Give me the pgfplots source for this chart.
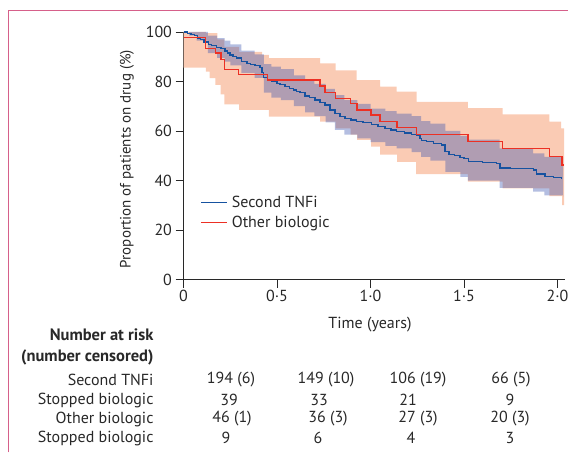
\documentclass[border=0pt]{standalone}
\usepackage{fontspec}
\setmainfont{PT Sans}
\usepackage{pgfplots}
\pgfplotsset{compat=1.18}
\usepgfplotslibrary{fillbetween}
\definecolor{frame}{RGB}{214,96,138}
\definecolor{oband}{RGB}{250,203,180}
\definecolor{bband}{RGB}{58,84,176}
\definecolor{bline}{RGB}{22,82,160}
\definecolor{rline}{RGB}{236,48,36}
\definecolor{txt}{RGB}{40,40,40}
\newcommand{\fs}{\fontsize{16}{19}\selectfont}
\begin{document}
\begin{tikzpicture}
\draw[frame, line width=1.5pt] (8.5pt,0.75pt) -- (8.5pt,442.5pt) -- (568.25pt,442.5pt);
\begin{axis}[
  at={(183.5pt,173.5pt)}, anchor=south west,
  scale only axis, width=381.5pt, height=247.5pt,
  xmin=0, xmax=2.04, ymin=0, ymax=100,
  axis lines=left,
  axis line style={-, line width=0.9pt, txt},
  tick style={line width=0.9pt, txt},
  tick align=outside, major tick length=8pt,
  xtick={0,0.5,1,1.5,2}, xticklabels={0,0·5,1·0,1·5,2·0},
  ytick={0,20,40,60,80,100}, yticklabels={0,20,40,60,80,100},
  tick label style={font=\fs, text=txt},
  xticklabel style={yshift=1pt},
  /pgf/number format/assume math mode=true,
  legend style={draw=none, fill=none, at={(0.045,0.345)}, anchor=north west, font=\fs, row sep=3pt, column sep=2pt, inner sep=0pt, text=txt},
  legend cell align=left,
  legend image code/.code={\draw[#1, line width=1pt] (0pt,0pt) -- (26pt,0pt);},
]
% Other biologic CI (orange)
\addplot[name path=ou, draw=none, const plot, forget plot] coordinates {
(0,100) (0.12,99.5) (0.181,97) (0.218,94) (0.298,92) (0.42,90.8) (0.457,89.4) (0.730,87.3) (0.814,84.5) (0.926,80.6) (1.051,77.9) (1.140,75.9) (1.247,71.8) (1.520,69.2) (1.707,66.7) (1.956,63.8) (2.019,61.1) (2.035,61.1)};
\addplot[name path=ol, draw=none, const plot, forget plot] coordinates {
(0,85.6) (0.119,84) (0.14,81.4) (0.17,78.6) (0.199,74.8) (0.218,70.8) (0.298,68.5) (0.457,65.8) (0.730,63.8) (0.814,61.1) (0.893,58.5) (0.928,56.4) (1.003,53.7) (1.051,50.5) (1.142,47.5) (1.244,42.6) (1.521,39.5) (1.706,36.8) (1.956,33.7) (2.024,30.1) (2.035,30.1)};
\addplot[oband, draw=none, forget plot] fill between[of=ou and ol];
% Second TNFi CI (blue)
\addplot[name path=bu, draw=none, const plot, forget plot] coordinates {
(0,100) (0.13,98.5) (0.18,97.5) (0.22,96.5) (0.25,95) (0.31,92.5) (0.38,91) (0.43,87) (0.47,86) (0.52,85) (0.59,82.5) (0.65,80.5) (0.70,79) (0.76,77) (0.81,74.5) (0.86,72.5) (0.93,71) (1.00,69) (1.08,68) (1.14,67) (1.22,66) (1.27,64) (1.32,63) (1.40,60) (1.48,58) (1.52,56.5) (1.69,53) (1.87,51) (1.93,49.5) (2.03,48.5)};
\addplot[name path=bl, draw=none, const plot, forget plot] coordinates {
(0,100) (0.03,98.5) (0.07,96.5) (0.13,91.5) (0.18,89.5) (0.22,88) (0.25,86.5) (0.31,83.5) (0.38,81.5) (0.43,75.5) (0.47,73.5) (0.52,72.5) (0.59,70) (0.65,67.5) (0.70,66) (0.76,63.5) (0.81,60.5) (0.86,58.5) (0.93,57) (1.00,55.5) (1.08,54) (1.14,53) (1.22,51.5) (1.27,49.5) (1.32,48) (1.40,43.5) (1.48,41.5) (1.52,40) (1.69,37) (1.87,35.5) (1.93,34) (2.03,33.5)};
\addplot[bband, fill opacity=0.38, draw=none, forget plot] fill between[of=bu and bl];
% Second TNFi KM
\addplot[bline, line width=1.3pt, const plot] coordinates {
(0,100) (0.02,99.5) (0.04,99.0) (0.06,98.5) (0.075,97.5) (0.09,97.0) (0.11,96.0) (0.133,95.0) (0.15,94.5) (0.178,93.8) (0.2,93.2) (0.222,92.3) (0.235,91.5) (0.249,90.7) (0.265,90.2) (0.284,89.5) (0.311,88.0) (0.34,87.3) (0.36,86.8) (0.382,86.4) (0.409,85.6) (0.42,83.5) (0.427,81.5) (0.45,80.5) (0.472,79.9) (0.5,79.3) (0.516,78.8) (0.543,77.9) (0.565,77.2) (0.587,76.6) (0.605,76.0) (0.623,75.5) (0.65,74.2) (0.675,73.5) (0.703,72.5) (0.73,71.5) (0.757,70.5) (0.783,68.5) (0.81,67.1) (0.837,65.8) (0.864,65.1) (0.895,64.5) (0.926,63.8) (0.96,63.3) (1.006,62.6) (1.04,61.9) (1.078,61.0) (1.11,60.4) (1.14,59.7) (1.18,59.2) (1.22,58.6) (1.247,58.3) (1.265,57.0) (1.274,56.3) (1.3,55.8) (1.335,55.0) (1.381,54.3) (1.398,51.6) (1.42,50.5) (1.45,50.0) (1.479,49.4) (1.5,48.8) (1.523,47.7) (1.6,47.3) (1.675,46.9) (1.693,45.0) (1.75,44.8) (1.871,44.2) (1.889,42.6) (1.933,41.6) (1.98,41.2) (2.022,40.9)};
\addlegendentry{Second TNFi}
% Other biologic KM
\addplot[rline, line width=1.2pt, const plot] coordinates {
(0,97.8) (0.119,93.3) (0.17,91.5) (0.2,88.8) (0.218,84.8) (0.293,82.7) (0.45,80.6) (0.730,78.2) (0.757,75.6) (0.814,73.2) (0.893,71.2) (0.928,68.5) (1.003,66.5) (1.051,63.8) (1.142,61.3) (1.244,58.7) (1.521,55.7) (1.706,53.0) (1.956,49.6) (2.024,46.3) (2.035,46.3)};
\addlegendentry{Other biologic}
\end{axis}
% labels
\node[rotate=90, font=\fontsize{15}{18}\selectfont, text=txt] at (127pt,294pt) {Proportion of patients on drug (\%)};
\node[font=\fs, text=txt] at (370pt,128pt) {Time (years)};
% risk table
\begin{scope}[every node/.style={font=\fs, text=txt}]
\node[anchor=east, font=\fontsize{16.5}{19}\selectfont\bfseries] at (157pt,118pt) {Number at risk};
\node[anchor=east, font=\fontsize{16.5}{19}\selectfont\bfseries] at (157pt,96pt) {(number censored)};
\node[anchor=east] at (157pt,73pt) {Second TNFi};
\node[anchor=east] at (157pt,53pt) {Stopped biologic};
\node[anchor=east] at (157pt,34pt) {Other biologic};
\node[anchor=east] at (157pt,15pt) {Stopped biologic};
\node at (231pt,73pt) {194 (6)}; \node at (326pt,73pt) {149 (10)}; \node at (418pt,73pt) {106 (19)}; \node at (511pt,73pt) {66 (5)};
\node at (229pt,53pt) {39}; \node at (319pt,53pt) {33}; \node at (408pt,53pt) {21}; \node at (510pt,53pt) {9};
\node at (232pt,34pt) {46 (1)}; \node at (328pt,34pt) {36 (3)}; \node at (418pt,34pt) {27 (3)}; \node at (510pt,34pt) {20 (3)};
\node at (226pt,15pt) {9}; \node at (318pt,15pt) {6}; \node at (411pt,15pt) {4}; \node at (510pt,15pt) {3};
\end{scope}
\pgfresetboundingbox
\useasboundingbox (0pt,0pt) rectangle (569pt,453pt);
\end{tikzpicture}
\end{document}
